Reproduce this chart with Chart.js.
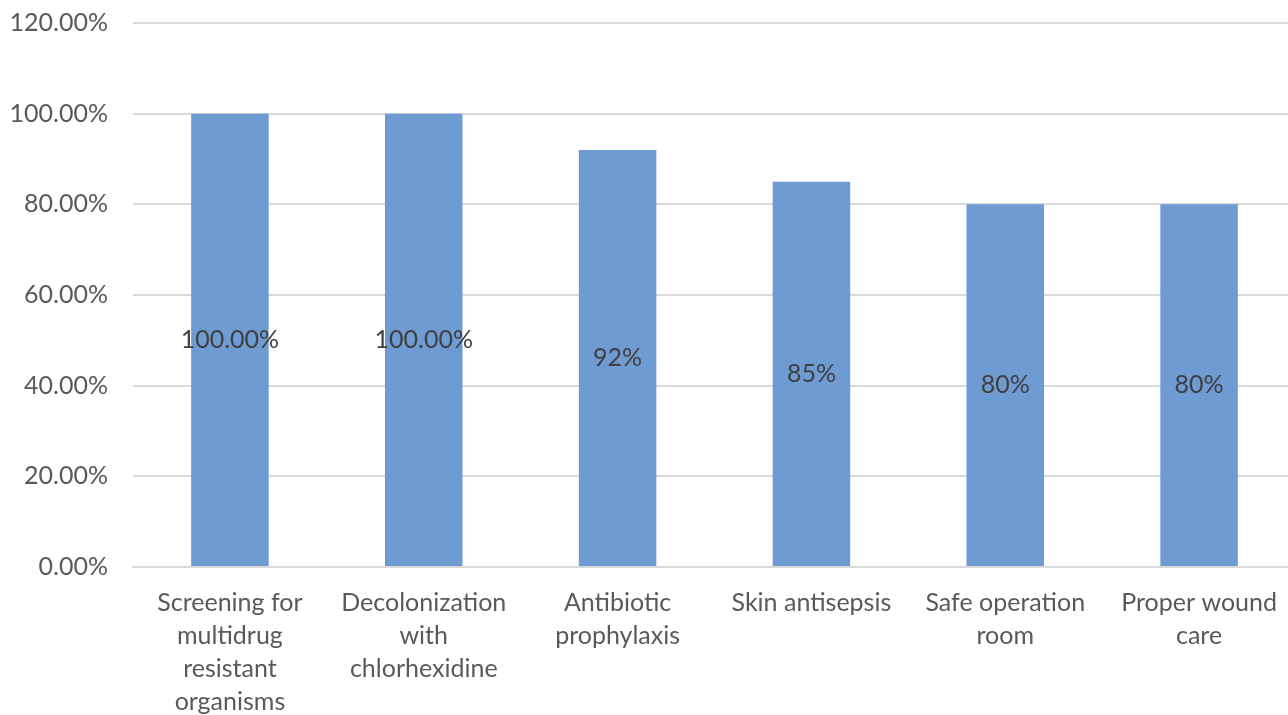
<!DOCTYPE html>
<html>
<head>
<meta charset="utf-8">
<script src="https://cdn.jsdelivr.net/npm/chart.js@4/dist/chart.umd.min.js"></script>
<style>
  html, body { margin: 0; padding: 0; background: #fff; overflow: hidden; width: 1288px; height: 715px; }
  #wrap { width: 1296px; height: 732px; position: absolute; left: 0; top: -17px; }
</style>
</head>
<body>
<div id="wrap"><canvas id="barChart"></canvas></div>
<script>
const categories = [
  ['Screening for', 'multidrug', 'resistant', 'organisms'],
  ['Decolonization', 'with', 'chlorhexidine'],
  ['Antibiotic', 'prophylaxis'],
  ['Skin antisepsis'],
  ['Safe operation', 'room'],
  ['Proper wound', 'care']
];
const values = [1.00, 1.00, 0.92, 0.85, 0.80, 0.80];
const valueLabels = ['100.00%', '100.00%', '92%', '85%', '80%', '80%'];

const fontFamily = 'Lato, "Open Sans", sans-serif';

// draws the value text in the middle of each bar
const centerLabels = {
  id: 'centerLabels',
  afterDatasetsDraw(chart) {
    const ctx = chart.ctx;
    const meta = chart.getDatasetMeta(0);
    ctx.save();
    ctx.font = '25px ' + fontFamily;
    ctx.fillStyle = '#404040';
    ctx.textAlign = 'center';
    ctx.textBaseline = 'middle';
    meta.data.forEach((bar, i) => {
      const y = (bar.y + bar.base) / 2;
      ctx.fillText(valueLabels[i], bar.x, y);
    });
    ctx.restore();
  }
};

new Chart(document.getElementById('barChart').getContext('2d'), {
  type: 'bar',
  data: {
    labels: categories,
    datasets: [{
      data: values,
      backgroundColor: '#6f9bd3',
      barPercentage: 0.4,
      categoryPercentage: 1.0
    }]
  },
  options: {
    responsive: true,
    maintainAspectRatio: false,
    animation: false,
    layout: { padding: 0 },
    plugins: {
      legend: { display: false },
      tooltip: { enabled: false }
    },
    scales: {
      x: {
        grid: { display: false, drawTicks: false },
        border: { display: true, color: '#d9d9d9', width: 2 },
        ticks: {
          color: '#595959',
          font: { family: fontFamily, size: 25, lineHeight: 1.32 },
          padding: 19,
          maxRotation: 0,
          autoSkip: false
        },
        afterFit(scale) { scale.height = 148; }
      },
      y: {
        min: 0,
        max: 1.2,
        grid: { color: '#d9d9d9', lineWidth: 2, drawTicks: false },
        border: { display: false },
        ticks: {
          stepSize: 0.2,
          color: '#595959',
          font: { family: fontFamily, size: 25 },
          padding: 25,
          callback: v => (v * 100).toFixed(2) + '%'
        },
        afterFit(scale) { scale.width = 133; }
      }
    }
  },
  plugins: [centerLabels]
});
</script>
</body>
</html>
